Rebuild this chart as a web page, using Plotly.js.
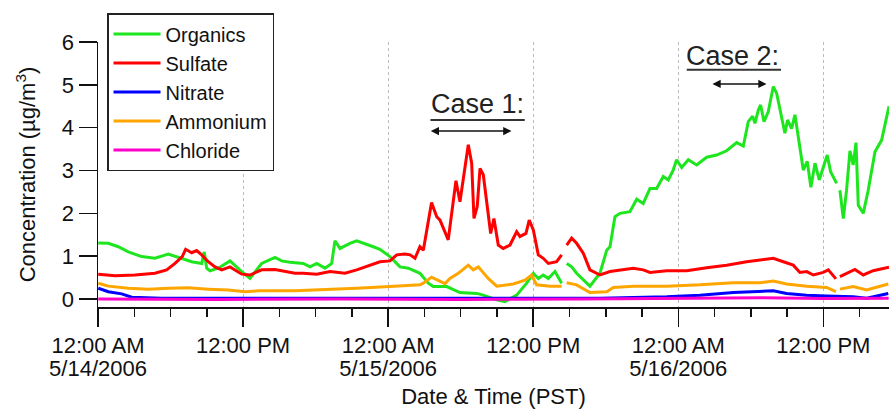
<!DOCTYPE html>
<html>
<head>
<meta charset="utf-8">
<script src="https://cdn.plot.ly/plotly-3.0.1.min.js"></script>
<style>html,body{margin:0;padding:0;background:#fff;}#chart{width:889px;height:412px;}</style>
</head>
<body>
<div id="chart"></div>
<script>
// Hours since 12:00 AM 5/14/2006 (PST); null = gap in record
const orgHours = [0.02,0.85,1.68,2.51,3.61,4.71,5.81,6.64,7.75,8.58,8.79,8.99,9.26,9.95,10.92,11.89,12.57,13.54,14.64,15.19,15.88,16.98,17.54,18.09,18.78,19.33,19.60,20.02,20.84,21.40,21.94,22.77,23.32,24.15,24.98,25.67,26.63,27.32,27.73,28.84,29.94,31.32,31.87,32.98,33.66,34.63,35.46,36.01,36.42,36.83,37.25,37.80,38.35,38.6,38.77,39.18,39.59,40.69,41.52,42.08,42.35,42.76,43.18,44.00,44.56,45.10,45.66,46.21,46.76,47.17,47.58,47.86,48.28,48.83,49.52,50.35,51.17,52.00,52.83,53.38,53.79,54.15,54.34,54.62,54.81,55.09,55.44,55.86,56.14,56.55,56.82,57.04,57.37,57.65,57.92,58.34,58.67,58.97,59.31,59.66,60.32,60.60,61.10,61.25,61.37,61.65,61.92,62.20,62.47,62.70,62.89,63.30,63.71,64.27,64.82,65.43];
const organics = [1.31,1.30,1.22,1.10,0.99,0.95,1.05,0.97,0.87,0.83,1.10,0.72,0.66,0.72,0.89,0.64,0.48,0.83,0.97,0.89,0.86,0.83,0.75,0.83,0.72,0.83,1.36,1.18,1.30,1.36,1.31,1.22,1.16,0.99,0.75,0.72,0.60,0.37,0.29,0.29,0.15,0.13,0.09,-0.02,-0.06,0.09,0.37,0.60,0.48,0.56,0.48,0.64,0.37,null,0.83,0.75,0.60,0.30,0.60,1.14,1.22,1.92,2.00,2.04,2.33,2.23,2.58,2.58,2.86,2.78,3.01,3.25,3.07,3.25,3.13,3.31,3.36,3.46,3.65,3.57,4.14,4.27,4.10,4.41,4.53,4.14,4.37,4.96,4.80,4.26,3.87,4.18,3.98,4.30,3.79,3.01,3.21,2.61,3.17,2.78,3.36,2.97,2.70,null,2.54,1.88,2.54,3.46,3.13,3.65,2.19,2.00,2.54,3.44,3.71,4.50];

const sulHours = [0.02,1.41,3.06,4.71,5.68,6.37,6.97,7.25,7.75,8.16,8.58,9.12,9.68,10.23,10.92,11.89,12.57,13.54,14.64,15.47,16.29,16.98,18.09,19.19,20.43,21.40,22.50,23.32,24.15,24.71,25.39,25.82,26.22,26.63,26.91,27.59,28.02,28.29,28.97,29.61,29.94,30.63,30.91,31.10,31.37,31.60,31.87,32.20,32.48,32.75,33.11,33.52,34.08,34.63,34.90,35.40,35.67,36.01,36.42,36.83,37.25,37.94,38.35,38.6,38.77,39.18,39.59,40.14,40.69,41.52,42.35,43.18,44.28,45.10,45.66,47.04,48.69,50.35,52.00,53.65,55.03,55.86,56.69,57.51,58.06,58.62,59.17,59.99,60.41,61.04,61.25,61.37,61.92,62.61,63.30,64.12,65.43];
const sulfate = [0.58,0.54,0.56,0.60,0.68,0.83,0.99,1.16,1.08,1.13,1.03,0.87,0.75,0.68,0.75,0.58,0.56,0.68,0.69,0.64,0.60,0.60,0.58,0.64,0.60,0.68,0.79,0.87,0.89,1.03,1.05,1.03,0.95,1.22,1.14,2.25,1.92,1.84,1.38,2.76,2.27,3.60,3.17,1.88,2.16,3.05,2.90,2.16,1.53,1.88,1.26,1.18,1.26,1.57,1.46,1.53,1.84,1.61,1.03,0.95,0.83,0.87,1.03,null,1.26,1.42,1.30,1.07,0.68,0.56,0.64,0.68,0.72,0.68,0.62,0.66,0.66,0.73,0.79,0.87,0.91,0.95,0.87,0.79,0.62,0.64,0.56,0.62,0.68,0.47,null,0.52,0.60,0.69,0.56,0.66,0.74];

const nitHours = [0.02,0.85,1.96,2.79,5.27,15.0,25.0,35.0,41.52,47.04,49.79,52.55,54.76,55.86,56.96,58.62,60.27,62.47,63.58,65.37];
const nitrate = [0.25,0.17,0.12,0.04,0.02,0.02,0.02,0.02,0.02,0.05,0.09,0.15,0.17,0.19,0.13,0.09,0.07,0.05,0.02,0.13];

const ammHours = [0.02,0.85,2.51,4.16,5.81,7.47,9.12,10.78,12.16,13.26,16.29,18.64,21.40,24.15,26.36,26.63,26.91,27.59,28.70,29.11,29.80,30.63,31.04,31.46,32.28,32.98,34.35,35.32,35.87,36.28,37.39,38.35,38.6,38.77,39.59,40.69,42.08,42.63,44.28,47.04,49.79,52.55,54.76,55.86,56.96,58.62,60.27,61.04,61.25,61.37,62.47,63.58,65.37];
const ammonium = [0.37,0.30,0.25,0.23,0.25,0.26,0.23,0.21,0.17,0.19,0.19,0.21,0.25,0.29,0.31,0.33,0.37,0.51,0.36,0.48,0.60,0.79,0.68,0.75,0.48,0.30,0.35,0.44,0.56,0.33,0.30,0.30,null,0.38,0.33,0.15,0.17,0.27,0.30,0.30,0.33,0.38,0.38,0.42,0.35,0.30,0.27,0.17,null,0.23,0.29,0.21,0.35];

const chlHours = [0.02,10,20,30,40,50,55,60,65.4];
const chloride = [0.0,-0.01,0.0,-0.01,0.0,0.02,0.03,0.01,0.02];

const seriesNames = ['Organics','Sulfate','Nitrate','Ammonium','Chloride'];
const seriesColors = ['#1ee61e','#ff0000','#0000ff','#ffa500','#ff00cc'];

const timeTickHours = [0,12,24,36,48,60];
const timeTickLabels = ['12:00 AM','12:00 PM','12:00 AM','12:00 PM','12:00 AM','12:00 PM'];
const dateTickHours = [0,24,48];
const dateTickLabels = ['5/14/2006','5/15/2006','5/16/2006'];
const minorTickStep = 3;

const FONT = 'Liberation Sans, Arial, Helvetica, sans-serif';
const X_RANGE = [0,65.43];
const xs = [orgHours, sulHours, nitHours, ammHours, chlHours];
const ys = [organics, sulfate, nitrate, ammonium, chloride];

const traces = seriesNames.map((n,i)=>({
  type:'scatter', mode:'lines', name:n, x:xs[i], y:ys[i],
  connectgaps:false,
  line:{color:seriesColors[i], width:3}
}));
// carriers for the date-label axis and minor-tick axis (draw nothing)
['x2','x3'].forEach(ax=>traces.push({type:'scatter', mode:'lines', x:X_RANGE, y:[null,null],
  xaxis:ax, yaxis:'y', showlegend:false, hoverinfo:'skip'}));

const timeAlias = {}; timeTickHours.forEach((h,i)=>{timeAlias[String(h)] = timeTickLabels[i];});
const dateAlias = {}; dateTickHours.forEach((h,i)=>{dateAlias[String(h)] = dateTickLabels[i];});

// annotation anchors (hours, concentration)
const case1 = {tx:31.4, ty:4.55, ux0:27.5, ux1:35.3, uy:4.18, ax0:27.4, ax1:34.2, ay:3.92};
const case2 = {tx:52.5, ty:5.68, ux0:48.7, ux1:56.5, uy:5.35, ax0:50.7, ax1:55.3, ay:5.02};

function caseAnn(c, label){
  return [
    {x:c.tx, y:c.ty, xref:'x', yref:'y', text:label, showarrow:false,
     font:{family:FONT, size:27, color:'#222'}, xanchor:'center', yanchor:'middle'},
    {x:c.ax1, y:c.ay, ax:c.ax0, ay:c.ay, xref:'x', yref:'y', axref:'x', ayref:'y',
     text:'', showarrow:true, arrowside:'end+start', arrowhead:2, arrowsize:1.1,
     arrowwidth:1.5, arrowcolor:'#111'}
  ];
}
function caseLine(c){
  return {type:'line', xref:'x', yref:'y', x0:c.ux0, x1:c.ux1, y0:c.uy, y1:c.uy,
          line:{color:'#333', width:2}};
}

const layout = {
  width:889, height:412,
  margin:{l:98, r:0, t:42, b:105},
  paper_bgcolor:'#fff', plot_bgcolor:'#fff',
  font:{family:FONT, size:22, color:'#111'},
  showlegend:true,
  legend:{x:0.0114, y:1.109, xanchor:'left', yanchor:'top',
          bordercolor:'#222', borderwidth:1.5, bgcolor:'#fff', itemwidth:47,
          font:{family:FONT, size:20, color:'#111'}, tracegroupgap:0},
  xaxis:{range:X_RANGE, tickmode:'linear', tick0:0, dtick:12, labelalias:timeAlias,
         ticks:'outside', ticklen:18, tickwidth:1.5, tickcolor:'#111',
         showline:true, linecolor:'#111', linewidth:1.5,
         showgrid:true, gridcolor:'#bbbbbb', griddash:'dot', gridwidth:1,
         zeroline:false,
         tickfont:{family:FONT, size:22, color:'#111'},
         title:{text:'Date & Time (PST)', font:{family:FONT, size:22, color:'#111'}, standoff:31}},
  xaxis2:{range:X_RANGE, overlaying:'x', anchor:'y', side:'bottom',
          tickmode:'linear', tick0:0, dtick:24, labelalias:dateAlias,
          ticks:'outside', ticklen:18, tickwidth:0, tickcolor:'rgba(0,0,0,0)',
          ticklabelstandoff:24,
          showline:false, showgrid:false, zeroline:false,
          tickfont:{family:FONT, size:22, color:'#111'}},
  xaxis3:{range:X_RANGE, overlaying:'x', anchor:'y', side:'bottom',
          tickmode:'linear', tick0:0, dtick:minorTickStep, showticklabels:false,
          ticks:'outside', ticklen:9, tickwidth:1.5, tickcolor:'#111',
          showline:false, showgrid:false, zeroline:false},
  yaxis:{range:[-0.187,6], tickmode:'linear', tick0:0, dtick:1,
         ticks:'outside', ticklen:18, tickwidth:1.5, tickcolor:'#111',
         showline:true, linecolor:'#111', linewidth:1.5,
         showgrid:false, zeroline:false,
         tickfont:{family:FONT, size:22, color:'#111'},
         title:{text:'Concentration (µg/m<sup>3</sup>)', font:{family:FONT, size:22, color:'#111'}, standoff:20}},
  annotations:[...caseAnn(case1,'Case 1:'), ...caseAnn(case2,'Case 2:')],
  shapes:[caseLine(case1), caseLine(case2)]
};

Plotly.newPlot('chart', traces, layout, {displayModeBar:false, staticPlot:true});
</script>
</body>
</html>
